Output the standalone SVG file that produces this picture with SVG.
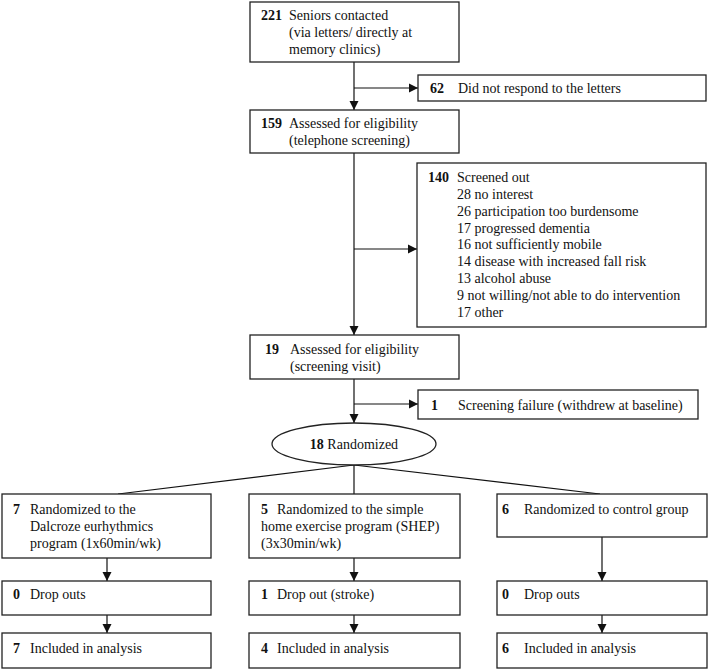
<svg xmlns="http://www.w3.org/2000/svg" width="709" height="671" viewBox="0 0 709 671">
<style>
text{font-family:"Liberation Serif","Times New Roman",serif;font-size:14px;fill:#111}
.b{font-weight:bold}
.box{fill:#fff;stroke:#222;stroke-width:1.3}
.ln{stroke:#111;stroke-width:1.2;fill:none}
.ar{stroke:#111;stroke-width:1.2;fill:none;marker-end:url(#ah)}
</style>
<defs>
<marker id="ah" markerWidth="10" markerHeight="10" refX="9" refY="5" orient="auto" markerUnits="userSpaceOnUse">
<path d="M0,0.5 L9,5 L0,9.5 Z" fill="#111"/>
</marker>
</defs>
<rect width="709" height="671" fill="#fff"/>
<g id="connectors">
<line class="ar" x1="354" y1="62" x2="354" y2="110"/>
<line class="ar" x1="354" y1="88" x2="418" y2="88"/>
<line class="ar" x1="354" y1="153" x2="354" y2="335"/>
<line class="ar" x1="354" y1="249" x2="417" y2="249"/>
<line class="ar" x1="354" y1="379" x2="354" y2="423"/>
<line class="ar" x1="354" y1="404" x2="418" y2="404"/>
<line class="ln" x1="354" y1="465" x2="118" y2="494"/>
<line class="ln" x1="354" y1="465" x2="354" y2="494"/>
<line class="ln" x1="354" y1="465" x2="600" y2="494"/>
<line class="ar" x1="107" y1="558" x2="107" y2="581"/>
<line class="ar" x1="107" y1="615" x2="107" y2="633"/>
<line class="ar" x1="354" y1="558" x2="354" y2="581"/>
<line class="ar" x1="354" y1="615" x2="354" y2="633"/>
<line class="ar" x1="602" y1="537" x2="602" y2="581"/>
<line class="ar" x1="602" y1="615" x2="602" y2="633"/>
</g>
<g id="n221">
<rect class="box" x="250" y="2" width="209" height="60"/>
<text class="b" x="261" y="20">221</text>
<text x="289" y="20">Seniors contacted</text>
<text x="289" y="37">(via letters/ directly at</text>
<text x="289" y="54">memory clinics)</text>
</g>
<g id="n62">
<rect class="box" x="418" y="75" width="288" height="26"/>
<text class="b" x="430" y="93">62</text>
<text x="458" y="93">Did not respond to the letters</text>
</g>
<g id="n159">
<rect class="box" x="250" y="110" width="209" height="43"/>
<text class="b" x="261" y="128">159</text>
<text x="289" y="128">Assessed for eligibility</text>
<text x="289" y="145">(telephone screening)</text>
</g>
<g id="n140">
<rect class="box" x="417" y="163" width="289" height="164"/>
<text class="b" x="428" y="182">140</text>
<text x="457" y="182">Screened out</text>
<text x="457" y="199">28 no interest</text>
<text x="457" y="215.5">26 participation too burdensome</text>
<text x="457" y="232.5">17 progressed dementia</text>
<text x="457" y="249">16 not sufficiently mobile</text>
<text x="457" y="266">14 disease with increased fall risk</text>
<text x="457" y="283">13 alcohol abuse</text>
<text x="457" y="299.5">9 not willing/not able to do intervention</text>
<text x="457" y="316.5">17 other</text>
</g>
<g id="n19">
<rect class="box" x="250" y="335" width="209" height="44"/>
<text class="b" x="265" y="354">19</text>
<text x="290" y="354">Assessed for eligibility</text>
<text x="290" y="371">(screening visit)</text>
</g>
<g id="n1">
<rect class="box" x="418" y="390" width="280" height="29"/>
<text class="b" x="431" y="410">1</text>
<text x="458" y="410">Screening failure (withdrew at baseline)</text>
</g>
<g id="nrand">
<ellipse class="box" cx="354" cy="444" rx="82" ry="21"/>
<text x="354" y="449" text-anchor="middle"><tspan class="b">18</tspan> Randomized</text>
</g>
<g id="ndal">
<rect class="box" x="2" y="494" width="209" height="64"/>
<text class="b" x="13" y="514">7</text>
<text x="30" y="514">Randomized to the</text>
<text x="30" y="531">Dalcroze eurhythmics</text>
<text x="30" y="548">program (1x60min/wk)</text>
</g>
<g id="nshep">
<rect class="box" x="249" y="494" width="211" height="64"/>
<text class="b" x="261" y="514">5</text>
<text x="277" y="514">Randomized to the simple</text>
<text x="261" y="531">home exercise program (SHEP)</text>
<text x="261" y="548">(3x30min/wk)</text>
</g>
<g id="nctrl">
<rect class="box" x="497" y="494" width="210" height="43"/>
<text class="b" x="502" y="514">6</text>
<text x="524" y="514">Randomized to control group</text>
</g>
<g id="ndrop1">
<rect class="box" x="2" y="581" width="209" height="34"/>
<text class="b" x="13" y="599">0</text>
<text x="30" y="599">Drop outs</text>
</g>
<g id="ndrop2">
<rect class="box" x="249" y="581" width="211" height="34"/>
<text class="b" x="261" y="599">1</text>
<text x="277" y="599">Drop out (stroke)</text>
</g>
<g id="ndrop3">
<rect class="box" x="497" y="581" width="210" height="34"/>
<text class="b" x="502" y="599">0</text>
<text x="524" y="599">Drop outs</text>
</g>
<g id="nan1">
<rect class="box" x="2" y="633" width="209" height="35"/>
<text class="b" x="13" y="653">7</text>
<text x="30" y="653">Included in analysis</text>
</g>
<g id="nan2">
<rect class="box" x="249" y="633" width="211" height="35"/>
<text class="b" x="261" y="653">4</text>
<text x="277" y="653">Included in analysis</text>
</g>
<g id="nan3">
<rect class="box" x="497" y="633" width="210" height="35"/>
<text class="b" x="502" y="653">6</text>
<text x="524" y="653">Included in analysis</text>
</g>
</svg>
